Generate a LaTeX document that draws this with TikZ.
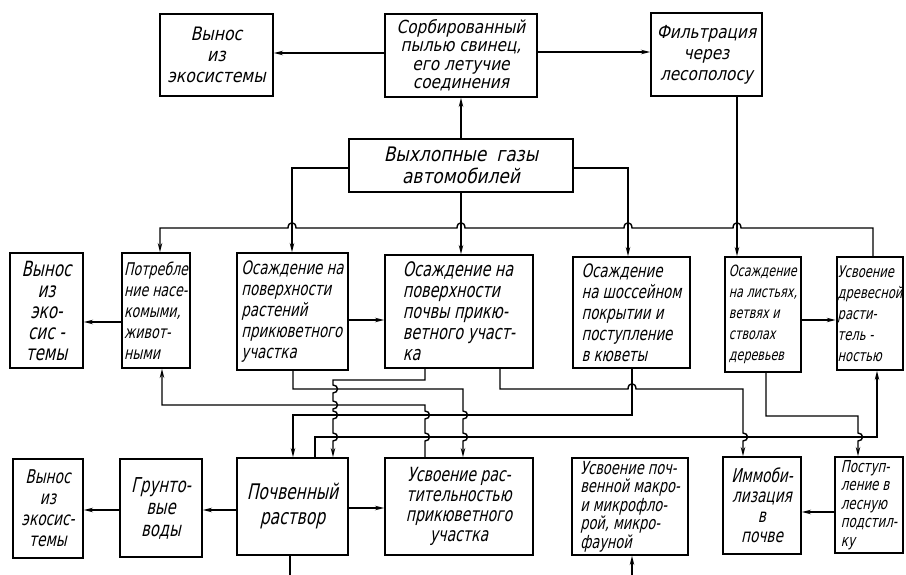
\documentclass[tikz,border=0pt]{standalone}
\usepackage{fontspec}
\usetikzlibrary{arrows.meta}
\newfontfamily\fm{DejaVu Sans}[FakeStretch=0.72,FakeSlant=0.22]
\newfontfamily\ft{DejaVu Sans}[FakeStretch=0.85,FakeSlant=0.22]
\newcommand\myfz[2]{\fontsize{#1}{#2}\selectfont}
\newcommand\mywig[2]{-- (#1,#2-4) .. controls +(6,0) and +(6,0) .. (#1,#2+4)}
\newcommand\myhop[2]{-- (#1-4,#2) .. controls +(0,-7) and +(0,-7) .. (#1+4,#2)}
\begin{document}
\begin{tikzpicture}[x=1pt,y=-1pt,
  box/.style={draw, line width=1.8pt, inner sep=1pt},
  conn/.style={line width=1.4pt},
  arr/.style={conn, -{Stealth[length=9pt,width=4.4pt]}},
  rarr/.style={conn, {Stealth[length=9pt,width=4.4pt]}-}]
\useasboundingbox (0,0) rectangle (906,575);
% top row
\node[box, minimum width=113, minimum height=82, align=center, font=\ft\myfz{18.5}{21}] (A) at (216.5,55) {Вынос\\из\\экосистемы};
\node[box, minimum width=152, minimum height=83, align=center, font=\ft\myfz{18}{18.5}] (B) at (461,55.5) {Сорбированный\\пылью свинец,\\его летучие\\соединения};
\node[box, minimum width=111, minimum height=83, align=center, font=\ft\myfz{18}{21}] (C) at (706.5,54.5) {Фильтрация\\через\\лесополосу};
\node[box, minimum width=224, minimum height=53, align=center, font=\ft\myfz{20}{22}] (E) at (461,165.5) {Выхлопные\enspace газы\\автомобилей};
% middle row
\node[box, minimum width=73, minimum height=115, align=center, font=\fm\myfz{21}{21}] (M1) at (46.5,310.5) {Вынос\\из\\эко-\\сис -\\темы};
\node[box, minimum width=68, minimum height=115, align=left, font=\fm\myfz{17.5}{21}] (M2) at (156,310.5) {Потребле\\ние насе-\\комыми,\\живот-\\ными};
\node[box, minimum width=111, minimum height=117, align=left, font=\fm\myfz{18.5}{21}] (M3) at (292.5,311.5) {Осаждение на\\поверхности\\растений\\прикюветного\\участка};
\node[box, minimum width=148, minimum height=113, align=left, font=\fm\myfz{20}{21}] (M4) at (459,311.5) {Осаждение на\\поверхности\\почвы прикю-\\ветного участ-\\ка};
\node[box, minimum width=117, minimum height=111, align=left, font=\fm\myfz{18.5}{21}] (M5) at (631.5,312.5) {Осаждение\\на шоссейном\\покрытии и\\поступление\\в кюветы};
\node[box, minimum width=76, minimum height=115, align=left, font=\fm\myfz{15.5}{21}] (M6) at (763,314.5) {Осаждение\\на листьях,\\ветвях и\\стволах\\деревьев};
\node[box, minimum width=66, minimum height=113, align=left, font=\fm\myfz{16}{21}] (M7) at (870,313.5) {Усвоение\\древесной\\расти-\\тель -\\ностью};
% bottom row
\node[box, minimum width=70, minimum height=99, align=center, font=\fm\myfz{19}{21}] (B1) at (48,508.5) {Вынос\\из\\экосис-\\темы};
\node[box, minimum width=82, minimum height=98, align=center, font=\fm\myfz{20.5}{22}] (B2) at (161,508) {Грунто-\\вые\\воды};
\node[box, minimum width=111, minimum height=97, align=center, font=\fm\myfz{21.5}{25}] (B3) at (292.5,506.5) {Почвенный\\раствор};
\node[box, minimum width=148, minimum height=97, align=center, font=\fm\myfz{19.5}{20}] (B4) at (459,506.5) {Усвоение рас-\\тительностью\\прикюветного\\участка};
\node[box, minimum width=116, minimum height=97, align=left, font=\fm\myfz{18}{18.5}] (B5) at (630,506.5) {Усвоение поч-\\венной макро-\\и микрофло-\\рой, микро-\\фауной};
\node[box, minimum width=78, minimum height=97, align=center, font=\fm\myfz{19}{20}] (B6) at (762,505.5) {Иммоби-\\лизация\\в\\почве};
\node[box, minimum width=68, minimum height=96, align=left, font=\fm\myfz{16.5}{18.5}] (B7) at (869,505) {Поступ-\\ление в\\лесную\\подстил-\\ку};
% top connectors
\draw[arr] (B.west |- 0,53) -- (A.east |- 0,53);
\draw[arr] (B.east |- 0,52) -- (C.west |- 0,52);
\draw[arr] (E.north) -- (B.south);
\draw[arr] (E.west |- 0,168) -- (292,168) -- (292,0 |- M3.north);
\draw[arr] (E.south) -- (E.south |- M4.north);
\draw[arr] (E.east |- 0,168) -- (628,168) -- (628,0 |- M5.north);
\draw[arr] (737,0 |- C.south) -- (737,0 |- M6.north);
\draw[rarr] (160,0 |- M2.north) -- (160,228) \myhop{292}{228} \myhop{461}{228} \myhop{628}{228} \myhop{737}{228} -- (873,228) -- (873,0 |- M7.north);
% middle row arrows
\draw[arr] (M2.west |- 0,322) -- (M1.east |- 0,322);
\draw[arr] (M3.east |- 0,320) -- (M4.west |- 0,320);
\draw[arr] (M6.east |- 0,320) -- (M7.west |- 0,320);
% bottom row arrows
\draw[arr] (B2.west |- 0,510) -- (B1.east |- 0,510);
\draw[arr] (B3.west |- 0,510) -- (B2.east |- 0,510);
\draw[arr] (B3.east |- 0,508) -- (B4.west |- 0,508);
\draw[arr] (B7.west |- 0,512) -- (B6.east |- 0,512);
% wiring between rows
\draw[arr] (293,0 |- M3.south) -- (293,389) -- (463,389) \mywig{463}{415} \mywig{463}{437} -- (463,0 |- B4.north);
\draw[arr] (425,0 |- M4.south) -- (425,380) -- (333,380) \mywig{333}{389} \mywig{333}{405} \mywig{333}{415} \mywig{333}{437} -- (333,0 |- B3.north);
\draw[rarr] (162,0 |- M2.south) -- (162,405) -- (425,405) \mywig{425}{415} \mywig{425}{437} -- (425,0 |- B4.north);
\draw[arr] (632,0 |- M5.south) -- (632,415) -- (293,415) -- (293,0 |- B3.north);
\draw[arr] (500,0 |- M4.south) -- (500,389) \myhop{632}{389} -- (743,389) \mywig{743}{437} -- (743,0 |- B6.north);
\draw[arr] (315,0 |- B3.north) -- (315,437) -- (877,437) -- (877,0 |- M7.south);
\draw[arr] (766,0 |- M6.south) -- (766,416) -- (858,416) \mywig{858}{437} -- (858,0 |- B7.north);
% stubs leaving the picture
\coordinate (out1) at (290,575);
\coordinate (out2) at (632,575);
\draw[conn] (290,0 |- B3.south) -- (out1);
\draw[arr] (out2) -- (632,0 |- B5.south);
\end{tikzpicture}
\end{document}
